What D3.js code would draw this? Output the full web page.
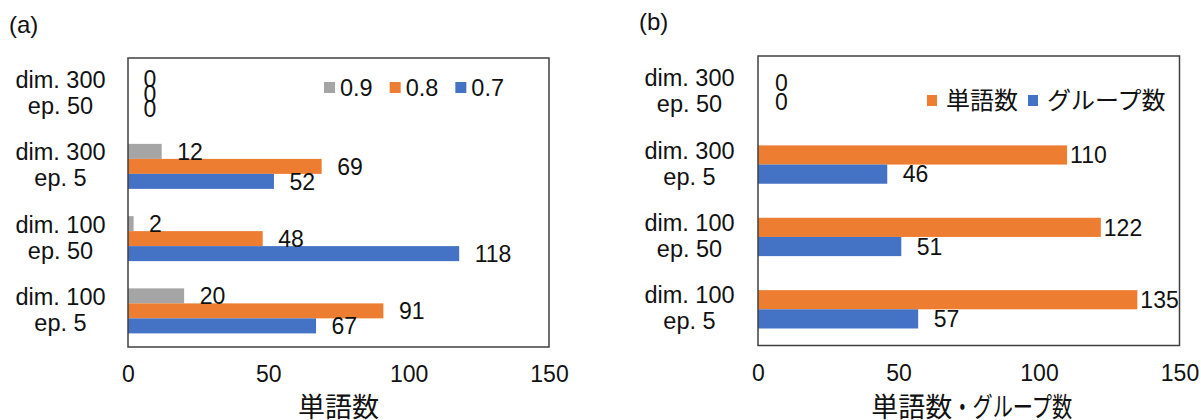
<!DOCTYPE html>
<html>
<head>
<meta charset="utf-8">
<script src="https://cdn.jsdelivr.net/npm/d3@7"></script>
<style>
	body { margin: 0; background: #fff; }
	text { font-family: "Liberation Sans", Arial, sans-serif; fill: #111; }
	.jp { font-family: "Noto Sans CJK JP", sans-serif; }
</style>
</head>
<body>
<div id="chart"></div>
<script>
// categories, top to bottom
const categories = [
	['dim. 300', 'ep. 50'],
	['dim. 300', 'ep. 5'],
	['dim. 100', 'ep. 50'],
	['dim. 100', 'ep. 5'],
];
const xTicks = [0, 50, 100, 150];

// (a) words per threshold
const thresholdNames = ['0.9', '0.8', '0.7'];
const words09 = [0, 12, 2, 20];
const words08 = [0, 69, 48, 91];
const words07 = [0, 52, 118, 67];

// (b) words and groups
const countNames = ['単語数', 'グループ数'];
const wordCounts = [0, 110, 122, 135];
const groupCounts = [0, 46, 51, 57];

const colors = { gray: '#a5a5a5', orange: '#ed7d31', blue: '#4472c4' };

class HBarChart {
	constructor(_config, _series) {
		this.config = _config;
		this.series = _series;
		this.initVis();
	}

	initVis() {
		const vis = this;
		const c = vis.config;

		vis.g = d3.select(c.parent).append('g');

		vis.xScale = d3.scaleLinear().domain([0, 150]).range([c.left, c.right]);
		vis.yScale = d3.scaleBand().domain(d3.range(categories.length))
			.range([c.top, c.bottom]).paddingInner(c.gap).paddingOuter(c.gap / 2);
		vis.subScale = d3.scaleBand().domain(vis.series.map(s => s.name))
			.range([0, vis.yScale.bandwidth()]);

		vis.renderVis();
	}

	renderVis() {
		const vis = this;
		const c = vis.config;

		// bars
		vis.series.forEach(s => {
			vis.g.append('g').selectAll('rect')
				.data(s.values)
				.join('rect')
				.attr('x', vis.xScale(0))
				.attr('y', (d, i) => vis.yScale(i) + vis.subScale(s.name))
				.attr('width', d => vis.xScale(d) - vis.xScale(0))
				.attr('height', vis.subScale.bandwidth())
				.attr('fill', s.color);
		});

		// data labels
		vis.series.forEach(s => {
			vis.g.append('g').selectAll('text')
				.data(s.values)
				.join('text')
				.attr('x', d => vis.xScale(d) + (d === 0 ? c.labelGap : s.labelGap))
				.attr('y', (d, i) => vis.yScale(i) + vis.subScale(s.name) + vis.subScale.bandwidth() / 2)
				.attr('dy', '0.36em')
				.attr('font-size', 23)
				.text(d => d);
		});

		// plot frame
		vis.g.append('rect')
			.attr('x', c.left).attr('y', c.top)
			.attr('width', c.right - c.left).attr('height', c.bottom - c.top)
			.attr('fill', 'none').attr('stroke', '#404040').attr('stroke-width', 1.5);

		// x axis labels only
		const xAxis = d3.axisBottom(vis.xScale).tickValues(xTicks).tickSize(0).tickPadding(19);
		const xAxisG = vis.g.append('g').attr('transform', `translate(0, ${c.bottom})`).call(xAxis);
		xAxisG.select('.domain').remove();
		xAxisG.selectAll('text').attr('font-size', 23).attr('fill', '#111')
			.attr('font-family', '"Liberation Sans", Arial, sans-serif');

		// category labels, two lines, centred
		const cat = vis.g.append('g').selectAll('text')
			.data(categories)
			.join('text')
			.attr('text-anchor', 'middle')
			.attr('font-size', 23.5);
		cat.append('tspan').attr('x', c.catX)
			.attr('y', (d, i) => vis.yScale(i) + vis.yScale.bandwidth() / 2 - 6)
			.text(d => d[0]);
		cat.append('tspan').attr('x', c.catX)
			.attr('y', (d, i) => vis.yScale(i) + vis.yScale.bandwidth() / 2 + 20)
			.text(d => d[1]);

		// axis title: first part normal, the kana part narrower like the original font
		const title = vis.g.append('text')
			.attr('class', 'jp')
			.attr('y', 417)
			.attr('font-size', 27);
		title.append('tspan').text(c.xLabel[0]);
		if (c.xLabel[1]) {
			title.append('tspan').attr('textLength', c.tailWidth)
				.attr('lengthAdjust', 'spacingAndGlyphs').text(c.xLabel[1]);
		}
		const tw = title.node().getComputedTextLength();
		title.attr('x', (c.left + c.right) / 2 + c.titleShift - tw / 2);

		// panel label
		vis.g.append('text')
			.attr('x', c.panelX).attr('y', c.panelY)
			.attr('font-size', 24)
			.text(c.panel);

		// legend
		const leg = c.legend;
		let lx = leg.x;
		vis.series.forEach(s => {
			vis.g.append('rect')
				.attr('x', lx).attr('y', leg.y - leg.h / 2)
				.attr('width', leg.w).attr('height', leg.h)
				.attr('fill', s.color);
			const t = vis.g.append('text')
				.attr('class', leg.jp ? 'jp' : null)
				.attr('x', lx + leg.w + leg.pad)
				.attr('y', leg.baseline)
				.attr('font-size', leg.size)
				.attr('fill', leg.color)
				.text(s.name);
			lx += leg.w + leg.pad + t.node().getComputedTextLength() + leg.space;
		});
	}
}

const svg = d3.select('#chart').append('svg').attr('id', 'main').attr('width', 1201).attr('height', 420);

new HBarChart({
	parent: '#main', panel: '(a)', panelX: 9, panelY: 33,
	left: 128, right: 549, top: 58, bottom: 347, gap: 0.377,
	catX: 60.5, labelGap: 15.5, xLabel: ['単語数'], titleShift: 0,
	legend: { x: 324, y: 87.5, w: 11, h: 11, pad: 5, space: 17, baseline: 95.5, size: 23.5, color: '#111', jp: false },
}, [
	{ name: thresholdNames[0], color: colors.gray, values: words09, labelGap: 15.5 },
	{ name: thresholdNames[1], color: colors.orange, values: words08, labelGap: 15.5 },
	{ name: thresholdNames[2], color: colors.blue, values: words07, labelGap: 15.5 },
]);

new HBarChart({
	parent: '#main', panel: '(b)', panelX: 639, panelY: 30,
	left: 758, right: 1179.5, top: 56, bottom: 345.5, gap: 0.47,
	catX: 689.5, labelGap: 17, xLabel: ['単語数', '・グループ数'], tailWidth: 120, titleShift: 3,
	legend: { x: 927, y: 100.5, w: 10, h: 11, pad: 9, space: 10, baseline: 109, size: 24, color: '#333', jp: true },
}, [
	{ name: countNames[0], color: colors.orange, values: wordCounts, labelGap: 3 },
	{ name: countNames[1], color: colors.blue, values: groupCounts, labelGap: 15.5 },
]);
</script>
</body>
</html>
